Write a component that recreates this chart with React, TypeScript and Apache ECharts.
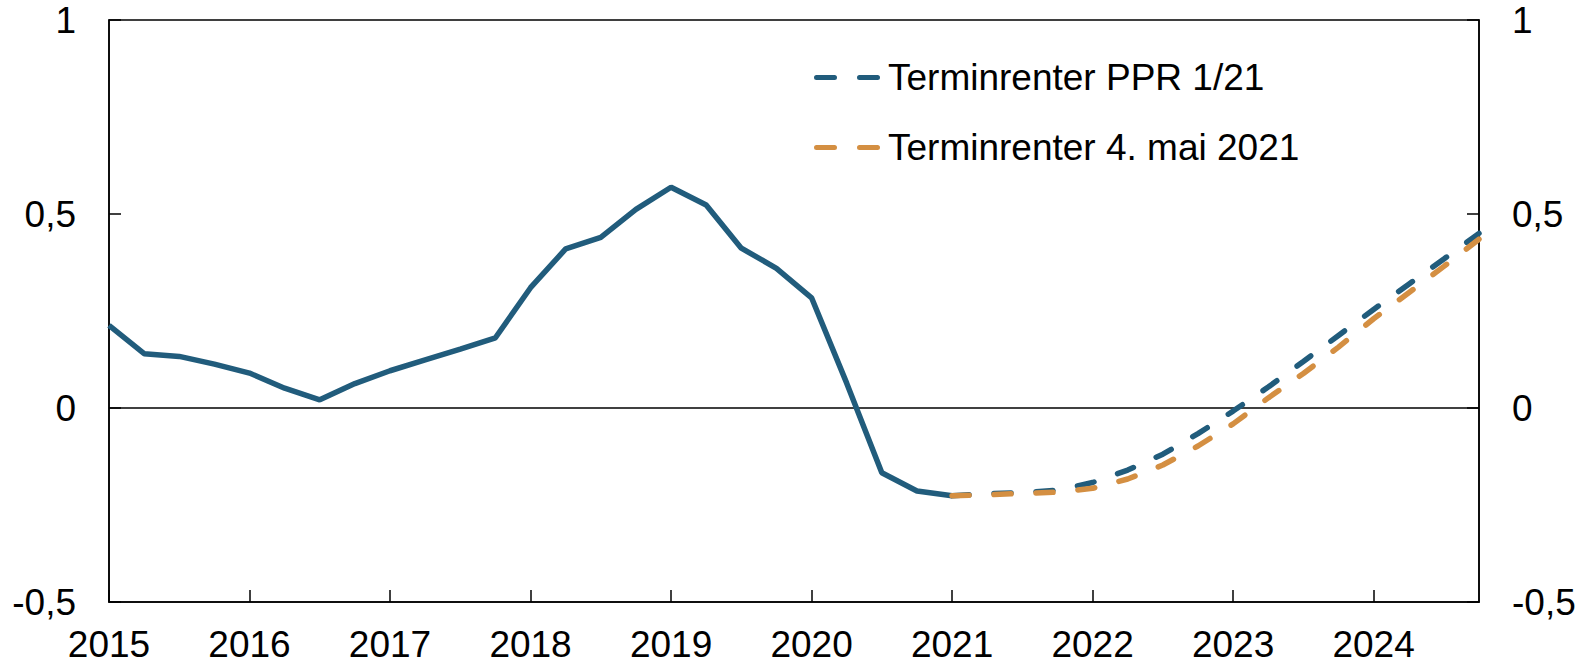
import React, { useEffect, useRef } from "react";
import * as echarts from "echarts";

const quarters = [
  "2015K1","2015K2","2015K3","2015K4",
  "2016K1","2016K2","2016K3","2016K4",
  "2017K1","2017K2","2017K3","2017K4",
  "2018K1","2018K2","2018K3","2018K4",
  "2019K1","2019K2","2019K3","2019K4",
  "2020K1","2020K2","2020K3","2020K4",
  "2021K1","2021K2","2021K3","2021K4",
  "2022K1","2022K2","2022K3","2022K4",
  "2023K1","2023K2","2023K3","2023K4",
  "2024K1","2024K2","2024K3","2024K4",
];

const historical = [
  0.213, 0.14, 0.133, 0.113,
  0.09, 0.051, 0.021, 0.063,
  0.096, 0.124, 0.152, 0.181,
  0.31, 0.41, 0.44, 0.512,
  0.569, 0.523, 0.412, 0.36,
  0.284, 0.064, -0.167, -0.214,
  -0.226,
];

const forwardPPR = [
  -0.226, -0.221, -0.218, -0.212,
  -0.192, -0.16, -0.119, -0.066,
  -0.008, 0.054, 0.12, 0.187,
  0.254, 0.319, 0.384, 0.45,
];

const forwardMay = [
  -0.226, -0.224, -0.22, -0.217,
  -0.207, -0.183, -0.147, -0.098,
  -0.041, 0.026, 0.089, 0.157,
  0.23, 0.297, 0.365, 0.435,
];

const yTicks = [-0.5, 0, 0.5, 1];

const BLUE = "#215c7c";
const ORANGE = "#d48f42";
const FONT = "'Liberation Sans', Arial, sans-serif";
const FS = 37;

const DASH_ICON =
  "path://M2.5,0 L20.5,0 A2.5,2.5 0 0 1 20.5,5 L2.5,5 A2.5,2.5 0 0 1 2.5,0 Z " +
  "M45.5,0 L63.5,0 A2.5,2.5 0 0 1 63.5,5 L45.5,5 A2.5,2.5 0 0 1 45.5,0 Z";

function pad(vals: number[], start: number): (number | null)[] {
  const out: (number | null)[] = [];
  for (let i = 0; i < quarters.length; i++) {
    const k = i - start;
    out.push(k >= 0 && k < vals.length ? vals[k] : null);
  }
  return out;
}

const fmt = (v: number) => String(v).replace(".", ",");

export default function App() {
  const ref = useRef<HTMLDivElement>(null);
  useEffect(() => {
    if (!ref.current) return;
    const chart = echarts.init(ref.current, undefined, { renderer: "svg" });
    const yAxisBase = (position: "left" | "right") => ({
      type: "value" as const,
      position,
      min: yTicks[0],
      max: yTicks[yTicks.length - 1],
      interval: 0.5,
      axisLine: { show: true, lineStyle: { color: "#000", width: 1.5 } },
      axisTick: { show: true, inside: true, length: 12, lineStyle: { color: "#000", width: 1.5 } },
      splitLine: { show: false },
      axisLabel: {
        color: "#000",
        fontSize: FS,
        lineHeight: 34,
        fontFamily: FONT,
        margin: 33,
        formatter: (v: number) => fmt(v),
      },
    });
    chart.setOption({
      animation: false,
      backgroundColor: "#fff",
      grid: {
        left: 109,
        right: 106,
        top: 20,
        bottom: 61,
        show: true,
        borderColor: "#000",
        borderWidth: 1.5,
        backgroundColor: "transparent",
      },
      legend: {
        show: true,
        orient: "vertical",
        left: 809,
        top: 54,
        itemWidth: 66,
        itemHeight: 5,
        itemGap: 33,
        data: [
          { name: "Terminrenter PPR 1/21", icon: DASH_ICON },
          { name: "Terminrenter 4. mai 2021", icon: DASH_ICON },
        ],
        textStyle: { color: "#000", fontSize: FS, fontFamily: FONT, padding: [0, 0, 0, 3] },
      },
      xAxis: {
        type: "category",
        data: quarters,
        boundaryGap: false,
        axisLine: { show: true, onZero: false, lineStyle: { color: "#000", width: 1.5 } },
        axisTick: { show: true, inside: true, interval: 3, length: 12, lineStyle: { color: "#000", width: 1.5 } },
        axisLabel: {
          interval: 3,
          color: "#000",
          fontSize: FS,
          lineHeight: 34,
          fontFamily: FONT,
          margin: 25,
          formatter: (v: string) => v.slice(0, 4),
        },
        splitLine: { show: false },
      },
      yAxis: [yAxisBase("left"), yAxisBase("right")],
      series: [
        {
          name: "Historisk",
          type: "line",
          data: pad(historical, 0),
          symbol: "none",
          lineStyle: { color: BLUE, width: 5.5 },
          itemStyle: { color: BLUE },
          z: 3,
          markLine: {
            silent: true,
            symbol: "none",
            label: { show: false },
            lineStyle: { color: "#000", width: 1.5, type: "solid" },
            data: [{ yAxis: 0 }],
            z: 1,
          },
        },
        {
          name: "Terminrenter PPR 1/21",
          type: "line",
          data: pad(forwardPPR, 24),
          symbol: "none",
          lineStyle: { color: BLUE, width: 5.5, type: [17, 25], cap: "round" },
          itemStyle: { color: BLUE },
          z: 4,
        },
        {
          name: "Terminrenter 4. mai 2021",
          type: "line",
          data: pad(forwardMay, 24),
          symbol: "none",
          lineStyle: { color: ORANGE, width: 5.5, type: [17, 25], cap: "round" },
          itemStyle: { color: ORANGE },
          z: 5,
        },
      ],
    });
    return () => chart.dispose();
  }, []);
  return (
    <div
      ref={ref}
      style={{ position: "fixed", left: 0, top: 0, width: 1585, height: 663, background: "#fff" }}
    />
  );
}
